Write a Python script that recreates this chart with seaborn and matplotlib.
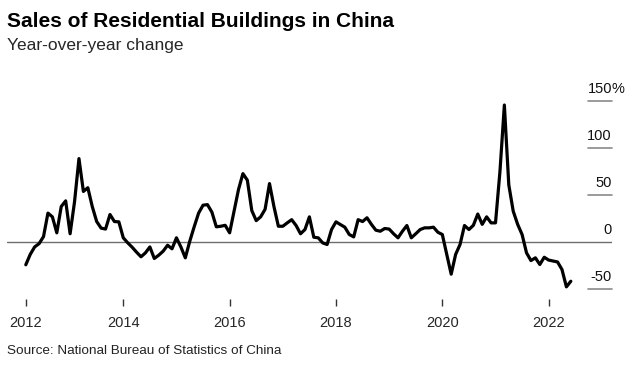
import numpy as np
import pandas as pd
import matplotlib.pyplot as plt
import seaborn as sns

sns.set_style('white')
plt.rcParams['font.family'] = ['Liberation Sans', 'DejaVu Sans']

# monthly year-over-year change (%), Mar 2012 - Jun 2022
months = pd.date_range('2012-03-01', '2022-06-01', freq='MS')
yoy = [-24, -13, -5, -1.5, 6, 31, 27, 10, 38, 44, 9, 43, 89, 54, 58, 38, 22, 15,
       14, 29.5, 22, 21.7, 4.7, -0.6, -5.3, -10.6, -15.5, -11.3, -5, -17.3, -13.8,
       -9.5, -3.2, -7, 4.7, -5, -16.6, 1, 16.4, 31, 39.4, 40, 32, 16.4, 17, 18, 10,
       33, 56, 73, 66, 33.7, 23, 27, 35, 62.4, 38, 17, 17, 20.6, 24, 17.8, 9, 13.5,
       27, 5.3, 4.7, -0.7, -2.4, 13.5, 21.7, 18.8, 16, 8.2, 5.7, 24, 22, 26, 19,
       12.8, 11.7, 14.6, 14, 9, 4.7, 11.7, 17.8, 4.7, 9, 13.5, 15.3, 15.3, 16, 10.6,
       8.2, -13, -34, -13, -2.4, 17.8, 13.5, 18, 30, 19, 27, 20.6, 20.6, 75, 146,
       61, 33, 19, 8.2, -11.3, -19.5, -16.6, -23.7, -16, -19, -20, -21, -29, -47.5,
       -41.5]
ygrid = [-50, 50, 100, 150]
ylabels = ['-50', '50', '100', '150']
xtick_years = [2014, 2016, 2018, 2020, 2022]

df = pd.DataFrame({'year': months.year + (months.month - 1) / 12, 'yoy': yoy})

fig = plt.figure(figsize=(6.29, 3.67), dpi=100)
ax = fig.add_axes([0.0111, 0.1853, 0.9618, 0.5967])

ax.axhline(0, color='#6e6e6e', lw=1, zorder=1)
sns.lineplot(data=df, x='year', y='yoy', color='black', lw=2.3, ax=ax, zorder=3)

ax.set_xlim(2011.813, 2023.19)
ax.set_ylim(-60.4, 172.6)

# short gridline stubs + labels on the right
tr = ax.get_yaxis_transform()
for v, lab in zip(ygrid, ylabels):
    ax.plot([0.96, 1.0], [v, v], transform=tr, color='#8a8a8a', lw=1.2, clip_on=False)
    ax.text(1.0, v + 8.5, lab, transform=tr, ha='right', va='baseline',
            fontsize=10.5, color='#111')
ax.text(1.0, 0 + 8.5, '0', transform=tr, ha='right', va='baseline', fontsize=10.5, color='#111')
ax.text(1.0, 150 + 8.5, '%', transform=tr, ha='left', va='baseline', fontsize=10.5, color='#111')

ax.set_xticks([df['year'].iloc[0]] + xtick_years)
ax.set_xticklabels(['2012'] + [str(y) for y in xtick_years])
ax.set_yticks([])
ax.tick_params(axis='x', direction='out', length=5, width=1, color='#333',
               pad=7, labelsize=10.5, bottom=True)
for s in ax.spines.values():
    s.set_visible(False)
ax.set_xlabel('')
ax.set_ylabel('')

fig.text(7 / 629, 1 - 27 / 367, 'Sales of Residential Buildings in China',
         fontsize=15, fontweight='bold', va='baseline', ha='left', color='black')
fig.text(7 / 629, 1 - 50 / 367, 'Year-over-year change', fontsize=12.5,
         va='baseline', ha='left')
fig.text(7 / 629, 1 - 354 / 367, 'Source: National Bureau of Statistics of China',
         fontsize=9.7, va='baseline', ha='left', color='#222')

fig.savefig('out.png', dpi=100)
